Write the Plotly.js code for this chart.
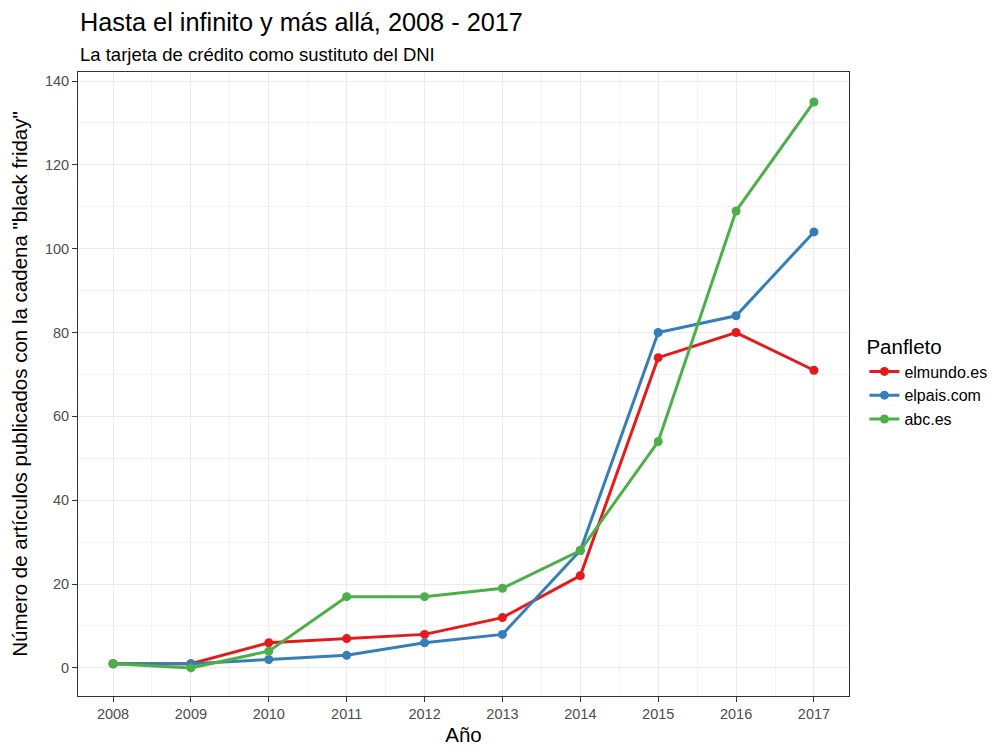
<!DOCTYPE html>
<html><head><meta charset="utf-8">
<script src="https://cdn.plot.ly/plotly-3.0.1.min.js"></script>
<style>body{margin:0;background:#fff}#c{width:1002px;height:755px}</style>
</head><body><div id="c"></div>
<script>
const years = [2008,2009,2010,2011,2012,2013,2014,2015,2016,2017];
const elmundo = [1,1,6,7,8,12,22,74,80,71];
const elpais = [1,1,2,3,6,8,28,80,84,104];
const abc = [1,0,4,17,17,19,28,54,109,135];
const seriesNames = ['elmundo.es','elpais.com','abc.es'];
const colors = ['#E41A1C','#377EB8','#4DAF4A'];
const vals = [elmundo, elpais, abc];

const F = 'Liberation Sans, Arial, sans-serif';
const traces = vals.map((v,i)=>({
  x: years, y: v, name: seriesNames[i], type:'scatter', mode:'lines+markers',
  line:{color:colors[i], width:3}, marker:{color:colors[i], size:9}
}));

const layout = {
  width:1002, height:755,
  paper_bgcolor:'#fff', plot_bgcolor:'#fff',
  margin:{l:78, r:153, t:72, b:59, autoexpand:false},
  font:{family:F},
  xaxis:{range:[2007.55,2017.45], tickmode:'array', tickvals:years, ticktext:years.map(String),
    showgrid:true, gridcolor:'#ebebeb', gridwidth:1,
    minor:{tickmode:'array', tickvals:[2008.5,2009.5,2010.5,2011.5,2012.5,2013.5,2014.5,2015.5,2016.5], showgrid:true, gridcolor:'#f3f3f3', gridwidth:1},
    zeroline:false, showline:true, mirror:true, linecolor:'#333', linewidth:1,
    ticks:'outside', ticklen:5, tickcolor:'#333', tickfont:{size:14.5, color:'#4d4d4d', family:F},
    title:{text:'Año', font:{size:20.5, color:'#000', family:F}, standoff:6}},
  yaxis:{range:[-6.7,142.15], tickmode:'array', tickvals:[0,20,40,60,80,100,120,140],
    showgrid:true, gridcolor:'#ebebeb', gridwidth:1,
    minor:{tickmode:'array', tickvals:[10,30,50,70,90,110,130], showgrid:true, gridcolor:'#f3f3f3', gridwidth:1},
    zeroline:false, showline:true, mirror:true, linecolor:'#333', linewidth:1,
    ticks:'outside', ticklen:5, tickcolor:'#333', tickfont:{size:14.5, color:'#4d4d4d', family:F},
    title:{text:'Número de artículos publicados con la cadena "black friday"', font:{size:20.5, color:'#000', family:F}, standoff:11}},
  showlegend:true,
  legend:{x:1.02, xanchor:'left', y:0.59, yanchor:'top', font:{size:16, color:'#000', family:F},
    title:{text:'Panfleto', font:{size:20.5, color:'#000', family:F}}, tracegroupgap:0, itemwidth:30, bgcolor:'rgba(0,0,0,0)'},
  annotations:[
    {text:'Hasta el infinito y más allá, 2008 - 2017', xref:'paper', yref:'paper', x:0, y:1, xanchor:'left', yanchor:'bottom', yshift:34, showarrow:false, font:{size:25.3, color:'#000', family:F}},
    {text:'La tarjeta de crédito como sustituto del DNI', xref:'paper', yref:'paper', x:0, y:1, xanchor:'left', yanchor:'bottom', yshift:5, showarrow:false, font:{size:18.5, color:'#000', family:F}}
  ]
};
Plotly.newPlot('c', traces, layout, {displayModeBar:false, staticPlot:true});
</script></body></html>
